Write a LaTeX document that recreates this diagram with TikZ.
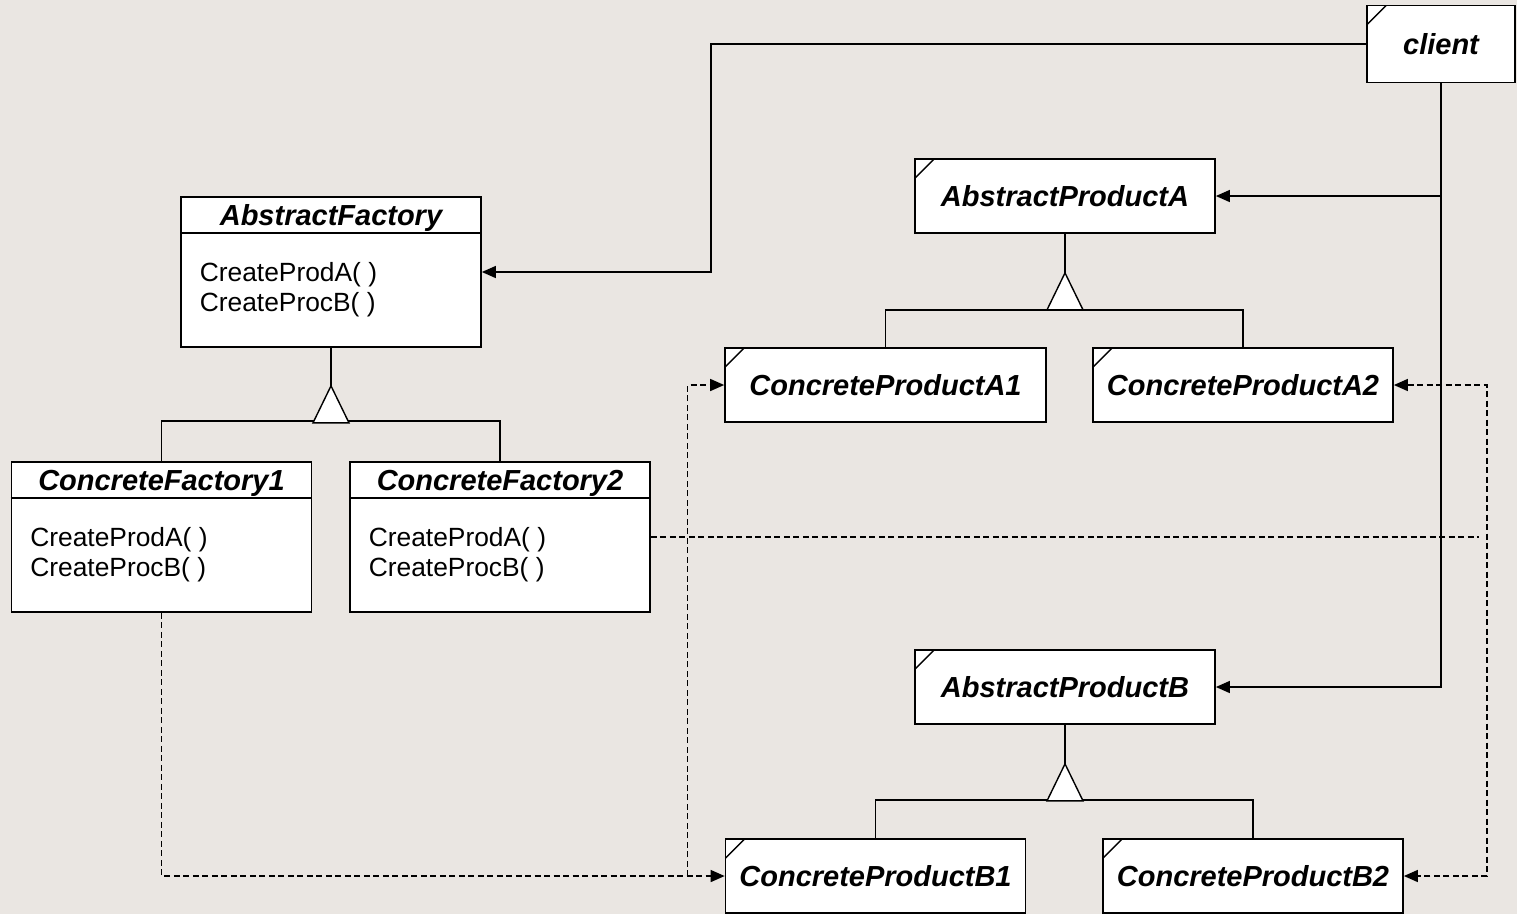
\documentclass[tikz,border=0pt]{standalone}
\usepackage{fontspec}
\setmainfont{Liberation Sans}
\usetikzlibrary{arrows.meta,positioning}
\definecolor{canvas}{RGB}{234,230,226}

\begin{document}
\begin{tikzpicture}[
        x=0.02cm, y=-0.02cm,
        >={Triangle[length=0.28cm,width=0.24cm]},
        every path/.style={line width=0.8pt},
        dashline/.style={dash pattern=on 0.12cm off 0.07cm},
        title/.style={font=\fontsize{16.5}{18}\selectfont\bfseries\itshape},
        op/.style={font=\fontsize{15}{17}\selectfont, inner sep=0pt},
        fac/.style={draw, fill=white, line width=1pt, minimum width=6cm, minimum height=3cm, inner sep=0pt},
        cls/.style={draw, fill=white, line width=1pt, minimum width=6cm, minimum height=1.48cm, inner sep=0pt, title,
          path picture={\draw[line width=0.8pt] ([yshift=-0.38cm]path picture bounding box.north west) -- ++(0.38cm,0.38cm);}},
        isa/.style={draw, fill=white, line width=0.8pt}
      ]

      \fill[canvas] (0,0) rectangle (1517,914);
      \useasboundingbox (0,0) rectangle (1517,914);

      % classes
      \node[cls, minimum width=2.96cm, minimum height=1.54cm] (client) at (1441,44) {client};
      \node[fac] (af) at (331,272) {};
      \node[fac] (cf1) at (161.5,537) {};
      \node[fac] (cf2) at (500,537) {};
      \node[cls] (apa) at (1065,196) {AbstractProductA};
      \node[cls, minimum width=6.42cm] (cpa1) at (885.5,385) {ConcreteProductA1};
      \node[cls] (cpa2) at (1243,385) {ConcreteProductA2};
      \node[cls] (apb) at (1065,687) {AbstractProductB};
      \node[cls] (cpb1) at (875.5,876) {ConcreteProductB1};
      \node[cls] (cpb2) at (1253,876) {ConcreteProductB2};

      \node[title] (af-title) at ([yshift=-0.44cm]af.north) {AbstractFactory};
      \node[title] (cf1-title) at ([yshift=-0.44cm]cf1.north) {ConcreteFactory1};
      \node[title] (cf2-title) at ([yshift=-0.44cm]cf2.north) {ConcreteFactory2};

      \foreach \f in {af,cf1,cf2} {
        \draw[line width=1pt] ([yshift=-0.74cm]\f.north west) -- ([yshift=-0.74cm]\f.north east);
        \node[op, anchor=west] (\f-opa) at ([xshift=0.38cm,yshift=-1.58cm]\f.north west) {CreateProdA( )};
        \node[op, anchor=west] (\f-opb) at ([xshift=0.38cm,yshift=-2.18cm]\f.north west) {CreateProcB( )};
      }

      % client uses
      \draw[->] (client.west) -- ++(-655,0) |- (af.east);
      \draw[->] (client.south) |- (apa.east);
      \draw[->] (client.south) |- (apb.east);

      % inheritance
      \draw (af.south) -- ++(0,38);
      \draw (cf1.north) -- ++(0,-40) -| (cf2.north);
      \path[isa] ([yshift=-0.76cm]af.south) -- ++(18,37) -- ++(-36,0) -- cycle;

      \draw (apa.south) -- ++(0,39);
      \draw (cpa1.north) -- ++(0,-37) -| (cpa2.north);
      \path[isa] ([yshift=-0.78cm]apa.south) -- ++(18,37) -- ++(-36,0) -- cycle;

      \draw (apb.south) -- ++(0,39);
      \draw (cpb1.north) -- ++(0,-38) -| (cpb2.north);
      \path[isa] ([yshift=-0.78cm]apb.south) -- ++(18,37) -- ++(-36,0) -- cycle;

      % creates
      \draw[dashline,->] (cf1.south) |- (cpb1.west);
      \draw[dashline,->] ([xshift=-0.74cm]cpb1.west) |- (cpa1.west);
      \draw[dashline] (cf2.east) -- ++(828,0);
      \draw[dashline,<->] (cpa2.east) -- ++(93,0) |- (cpb2.east);

    \end{tikzpicture}
\end{document}
